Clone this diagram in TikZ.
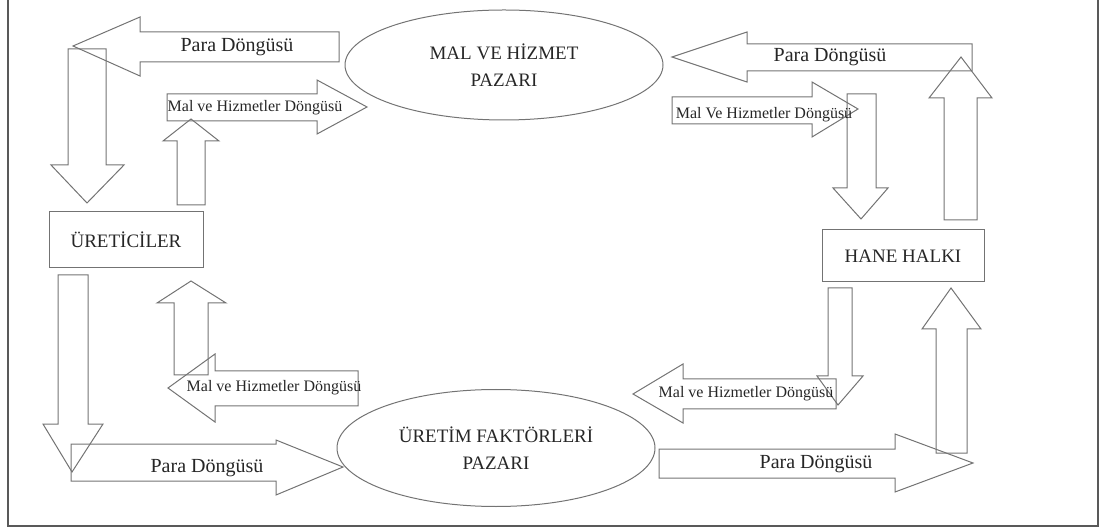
\documentclass[tikz,border=0pt]{standalone}
\usepackage{fontspec}
\setmainfont{Liberation Serif}
\usetikzlibrary{shapes.geometric}

\begin{document}
\begin{tikzpicture}[x=0.5pt,y=-0.5pt,every node/.style={inner sep=0pt,minimum size=0pt,text=black!85},
    flow/.style={draw=black!55,line width=0.5pt},
    box/.style={draw=black!55,line width=0.5pt,minimum width=77pt,minimum height=28pt,font=\fontsize{9.5}{12}\selectfont},
    market/.style={draw=black!55,line width=0.5pt,ellipse,minimum width=159pt,minimum height=55pt,align=center,font=\fontsize{9.5}{13.5}\selectfont},
    para/.style={font=\fontsize{10}{12}\selectfont},
    mal/.style={font=\fontsize{8}{10}\selectfont}]
    \useasboundingbox (0,0) rectangle (1101,528);
    \path[draw=black!65,line width=1pt] (8,-4) -- (8,526) -- (1098,526) -- (1098,-4);

    \node(uret)[box] at (126,240) {ÜRETİCİLER};
    \node(hane)[box,minimum width=81pt,minimum height=26pt] at (903,256) {HANE HALKI};
    \node(malp)[market] at (504,65) {MAL VE HİZMET\\PAZARI};
    \node(faktp)[market,minimum height=58.5pt] at (496,448) {ÜRETİM FAKTÖRLERİ\\PAZARI};

    \path[flow] (339,32) -- (140,32) -- (140,17) -- (73,46) -- (140,76) -- (140,62) -- (339,62) -- cycle;
    \path[flow] (167,94) -- (317,94) -- (317,80) -- (367,107) -- (317,134) -- (317,121) -- (167,121) -- cycle;
    \path[flow] (68,49) -- (106,49) -- (106,165) -- (124,165) -- (87,203) -- (51,165) -- (68,165) -- cycle;
    \path[flow] (177,205) -- (205,205) -- (205,141) -- (219,141) -- (191,119) -- (163,141) -- (177,141) -- cycle;

    \path[flow] (58,275) -- (88,275) -- (88,424) -- (103,424) -- (72,472) -- (43,424) -- (58,424) -- cycle;
    \path[flow] (174,375) -- (208,375) -- (208,303) -- (226,303) -- (191,281) -- (157,303) -- (174,303) -- cycle;
    \path[flow] (358,371) -- (215,371) -- (215,354) -- (168,388) -- (215,422) -- (215,406) -- (358,406) -- cycle;
    \path[flow] (71,444) -- (276,444) -- (276,440) -- (343,467) -- (276,495) -- (276,481) -- (71,481) -- cycle;

    \path[flow] (972,44) -- (747,44) -- (747,32) -- (672,57) -- (747,82) -- (747,71) -- (972,71) -- cycle;
    \path[flow] (672,97) -- (812,97) -- (812,82) -- (858,109) -- (812,137) -- (812,124) -- (672,124) -- cycle;
    \path[flow] (847,94) -- (876,94) -- (876,188) -- (888,188) -- (861,219) -- (833,188) -- (847,188) -- cycle;
    \path[flow] (944,220) -- (977,220) -- (977,98) -- (992,98) -- (961,57) -- (929,98) -- (944,98) -- cycle;

    \path[flow] (828,288) -- (852,288) -- (852,376) -- (863,376) -- (838,405) -- (817,376) -- (828,376) -- cycle;
    \path[flow] (936,453) -- (967,453) -- (967,329) -- (981,329) -- (951,288) -- (922,329) -- (936,329) -- cycle;
    \path[flow] (836,379) -- (683,379) -- (683,364) -- (633,394) -- (683,423) -- (683,409) -- (836,409) -- cycle;
    \path[flow] (659,449) -- (895,449) -- (895,434) -- (973,463) -- (895,492) -- (895,478) -- (659,478) -- cycle;

    \node(para1)[para] at (237,47) {Para Döngüsü};
    \node(mal1)[mal] at (255,108) {Mal ve Hizmetler Döngüsü};
    \node(mal2)[mal] at (274,388) {Mal ve Hizmetler Döngüsü};
    \node(para2)[para] at (207,468) {Para Döngüsü};
    \node(para3)[para] at (830,57) {Para Döngüsü};
    \node(mal3)[mal] at (764,115) {Mal Ve Hizmetler Döngüsü};
    \node(mal4)[mal] at (746,394) {Mal ve Hizmetler Döngüsü};
    \node(para4)[para] at (816,464) {Para Döngüsü};
  \end{tikzpicture}
\end{document}
